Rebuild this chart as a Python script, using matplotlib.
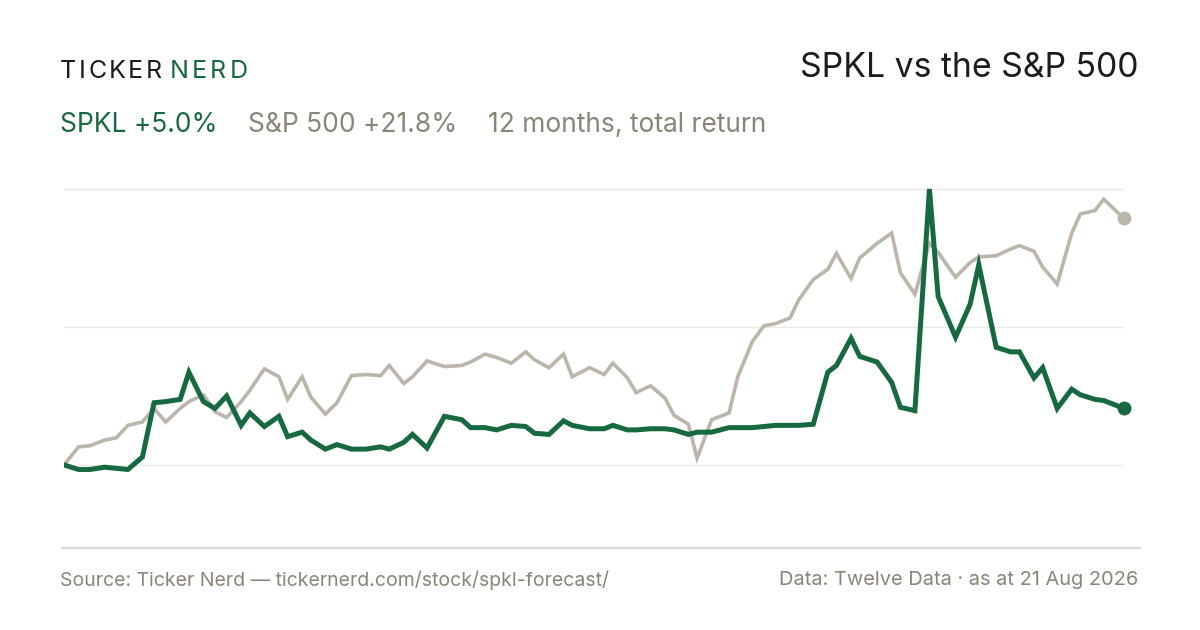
import matplotlib
matplotlib.use("Agg")
import matplotlib.pyplot as plt
from matplotlib.lines import Line2D

plt.rcParams['font.family'] = ['Inter', 'DejaVu Sans']

GREEN = '#17693f'
GREY_LINE = '#bcb5a9'
GREY_TEXT = '#8a8577'
INK = '#1c1c1c'

# days since start of the 12-month window
days = [0, 5, 9, 14, 18, 22, 27, 31, 35, 40,
        43, 48, 52, 56, 61, 64, 69, 74, 77, 82,
        85, 90, 94, 99, 104, 109, 112, 117, 120, 125,
        131, 137, 140, 145, 149, 154, 159, 162, 167, 172,
        175, 181, 186, 189, 194, 197, 202, 207, 210, 215,
        218, 223, 229, 232, 237, 241, 245, 250, 253, 258,
        263, 266, 271, 274, 280, 285, 288, 293, 298, 301,
        307, 312, 315, 321, 326, 329, 334, 337, 342, 347,
        350, 355, 358, 365]

# cumulative total return, %
spkl = [0.0, -0.4, -0.4, -0.2, -0.3, -0.4, 0.7, 5.5, 5.6, 5.8,
        8.2, 5.6, 5.0, 6.1, 3.5, 4.6, 3.4, 4.3, 2.5, 2.9,
        2.2, 1.4, 1.8, 1.4, 1.4, 1.6, 1.4, 2.0, 2.7, 1.5,
        4.3, 4.0, 3.3, 3.3, 3.1, 3.5, 3.4, 2.8, 2.7, 3.9,
        3.5, 3.2, 3.2, 3.5, 3.1, 3.1, 3.2, 3.2, 3.1, 2.7,
        2.9, 2.9, 3.3, 3.3, 3.3, 3.4, 3.5, 3.5, 3.5, 3.6,
        8.2, 8.8, 11.2, 9.6, 9.1, 7.3, 5.1, 4.8, 24.4, 14.9,
        11.3, 14.2, 17.7, 10.4, 10.0, 10.0, 7.7, 8.6, 5.0, 6.7,
        6.2, 5.8, 5.7, 5.0]

sp500 = [0.0, 1.6, 1.7, 2.2, 2.4, 3.5, 3.8, 5.0, 3.8, 5.0,
         5.6, 6.2, 4.7, 4.2, 5.6, 6.6, 8.5, 7.8, 5.8, 7.8,
         6.0, 4.5, 5.5, 7.9, 8.0, 7.9, 8.8, 7.2, 7.8, 9.2,
         8.7, 8.8, 9.1, 9.8, 9.5, 9.0, 10.0, 9.3, 8.6, 9.8,
         7.8, 8.6, 8.0, 9.0, 7.7, 6.4, 7.0, 5.9, 4.4, 3.6,
         0.6, 4.0, 4.6, 7.8, 10.9, 12.3, 12.5, 13.0, 14.6, 16.4,
         17.3, 18.7, 16.5, 18.3, 19.6, 20.5, 17.0, 15.1, 19.6, 18.8,
         16.6, 17.9, 18.4, 18.5, 19.1, 19.4, 18.9, 17.5, 16.0, 20.5,
         22.2, 22.5, 23.5, 21.8]

W, H = 1200, 630
fig = plt.figure(figsize=(12, 6.3), dpi=100)
fig.patch.set_facecolor('white')

def px(x, y):
    return x / W, 1 - y / H

def tracked(x, y, s, color, size, track):
    # draw letters one by one so the wordmark gets letter spacing
    r = fig.canvas.get_renderer()
    for ch in s:
        t = fig.text(*px(x, y), ch, color=color, fontsize=size, va='center', ha='left')
        x += t.get_window_extent(r).width + track
    return x

ax = fig.add_axes([64 / W, 1 - 500 / H, 1060 / W, 320 / H])
ax.set_xlim(days[0], days[-1])
ax.set_ylim(-3.1, 25.2)
ax.axis('off')

top = max(spkl)
for g in [0, top / 2, top]:
    ax.axhline(g, color='#ebe8e2', lw=1.0, zorder=0)

ax.plot(days, sp500, color=GREY_LINE, lw=2.6, solid_joinstyle='miter', zorder=2)
ax.plot(days, spkl, color=GREEN, lw=3.6, solid_joinstyle='miter', zorder=3)
ax.plot(days[-1], sp500[-1], 'o', color=GREY_LINE, ms=9, clip_on=False, zorder=4)
ax.plot(days[-1], spkl[-1], 'o', color=GREEN, ms=9, clip_on=False, zorder=4)

# bottom rule
fig.add_artist(Line2D([62 / W, 1140 / W], [1 - 548 / H, 1 - 548 / H],
                      color='#dedad2', lw=1.5))

# header
end = tracked(60, 71, 'TICKER', INK, 18, 2.5)
tracked(end + 5, 71, 'NERD', GREEN, 18, 3.2)

fig.text(*px(1138, 68), 'SPKL vs the S&P 500', color=INK, fontsize=24.3, va='center', ha='right')

fig.text(*px(60, 125), 'SPKL +5.0%', color=GREEN, fontsize=19, va='center', ha='left')
fig.text(*px(248, 125), 'S&P 500 +21.8%', color=GREY_TEXT, fontsize=19, va='center', ha='left')
fig.text(*px(488, 125), '12 months, total return', color=GREY_TEXT, fontsize=19, va='center', ha='left')

# footer
fig.text(*px(60, 580), 'Source: Ticker Nerd \u2014 tickernerd.com/stock/spkl-forecast/',
         color=GREY_TEXT, fontsize=14, va='center', ha='left')
fig.text(*px(1138, 580), 'Data: Twelve Data \u00b7 as at 21 Aug 2026',
         color=GREY_TEXT, fontsize=14.4, va='center', ha='right')

fig.savefig('out.png', dpi=100, facecolor='white')
